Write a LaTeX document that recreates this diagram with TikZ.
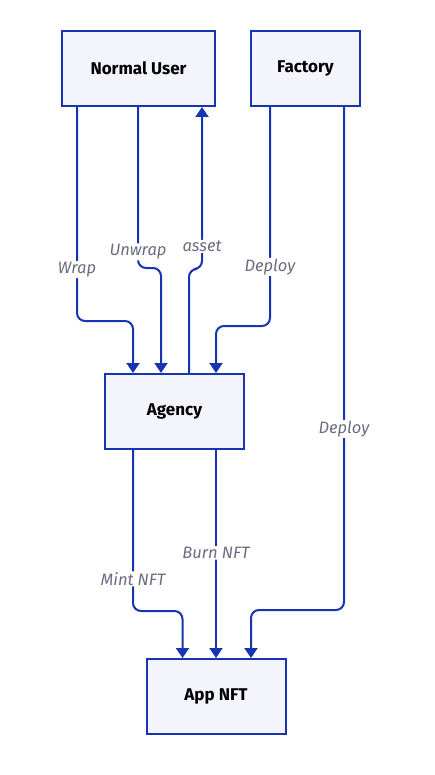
\documentclass[tikz,border=0pt]{standalone}
\usepackage{fontspec}
\setmainfont{Fira Sans}
\usepackage{tikz}
\usetikzlibrary{arrows.meta,positioning}
\definecolor{edgeblue}{RGB}{24,52,178}
\definecolor{boxfill}{RGB}{244,245,252}
\definecolor{lblgray}{RGB}{108,108,128}

\begin{document}
\begin{tikzpicture}[
    x=1pt, y=1pt,
    box/.style={rectangle, draw=edgeblue, fill=boxfill, line width=2pt,
                minimum height=75pt, align=center, font=\fontsize{17}{20}\selectfont\bfseries},
    lbl/.style={fill=white, text=lblgray, inner sep=1pt,
                font=\fontsize{16.5}{19}\selectfont\itshape},
    arrow/.style={-{Triangle[length=10pt,width=13pt]}, draw=edgeblue, line width=2pt,
                  rounded corners=8pt},
    backarrow/.style={{Triangle[length=10pt,width=13pt]}-, draw=edgeblue, line width=2pt,
                  rounded corners=8pt}
  ]
  \useasboundingbox (0,0) rectangle (435,-775);

  % --- top row ---
  \node[box, minimum width=153pt] (user) at (138.5,-68.5) {Normal User};
  \node[box, minimum width=109pt, right=34pt of user] (factory) {Factory};

  % --- middle and bottom ---
  \node[box, minimum width=139pt, below=266pt of user, xshift=36pt] (agency) {Agency};
  \node[box, minimum width=139pt, below=208pt of agency, xshift=41.5pt] (appnft) {App NFT};

  % user <-> agency
  \draw[arrow] ([xshift=-61.5pt]user.south) -- node[lbl, pos=0.76] {Wrap} ++(0,-214)
    -| ([xshift=-41.5pt]agency.north);
  \draw[arrow] ([xshift=-0.5pt]user.south) -- node[lbl, pos=0.9] {Unwrap} ++(0,-161)
    -| ([xshift=-13.5pt]agency.north);
  \draw[backarrow] ([xshift=63.5pt]user.south) -- node[lbl, pos=0.86] {asset} ++(0,-162)
    -| ([xshift=14.5pt]agency.north);

  % factory deploys
  \draw[arrow] ([xshift=-35.5pt]factory.south) -- node[lbl, pos=0.73] {Deploy} ++(0,-219)
    -| ([xshift=41.5pt]agency.north);
  \draw[arrow] ([xshift=38.5pt]factory.south) -- node[lbl, pos=0.64] {Deploy} ++(0,-503)
    -| ([xshift=35pt]appnft.north);

  % agency -> app nft
  \draw[arrow] ([xshift=-41.5pt]agency.south) -- node[lbl, pos=0.8] {Mint NFT} ++(0,-161)
    -| ([xshift=-33.5pt]appnft.north);
  \draw[arrow] ([xshift=41.5pt]agency.south) -- node[lbl, pos=0.495] {Burn NFT} (appnft.north);
\end{tikzpicture}
\end{document}
